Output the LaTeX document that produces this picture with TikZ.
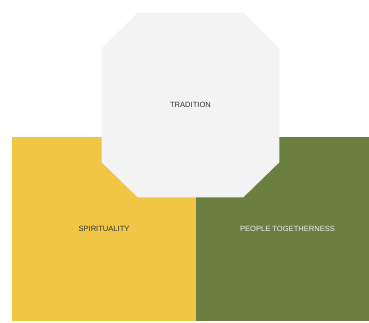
\documentclass[tikz,border=0pt]{standalone}
\usepackage{fontspec}
\setmainfont{Liberation Sans}
\definecolor{ylw}{HTML}{F1C644}
\definecolor{grn}{HTML}{6A7F40}
\definecolor{oct}{HTML}{F3F3F3}
\definecolor{txt}{HTML}{333333}
\definecolor{wtxt}{HTML}{EEEEEE}
\begin{document}
\begin{tikzpicture}[x=1bp,y=-1bp,
  panel/.style={draw=none,inner sep=0,outer sep=0,anchor=north west},
  lbl/.style={font=\fontsize{7.6}{9}\selectfont,inner sep=0}]
\useasboundingbox (0,0) rectangle (369,323);
\fill[white] (0,0) rectangle (369,323);
\node[panel,fill=ylw,minimum width=183.7bp,minimum height=184bp] (spir) at (12.3,136.7) {};
\node[panel,fill=grn,minimum width=173bp,minimum height=184bp] (peop) at (196,136.7) {};
\fill[oct] (137.7,12.7) -- (243.3,12.7) -- (279.3,48.3) -- (279.3,162.3) -- (243.3,197.3) -- (137.7,197.3) -- (101.7,162.3) -- (101.7,48.3) -- cycle;
\node[lbl,text=txt] (trad) at (190.5,104.5) {TRADITION};
\node[lbl,text=txt] (spirl) at (104,228.5) {SPIRITUALITY};
\node[lbl,text=wtxt] (peopl) at (287.5,228.5) {PEOPLE TOGETHERNESS};
\end{tikzpicture}
\end{document}
